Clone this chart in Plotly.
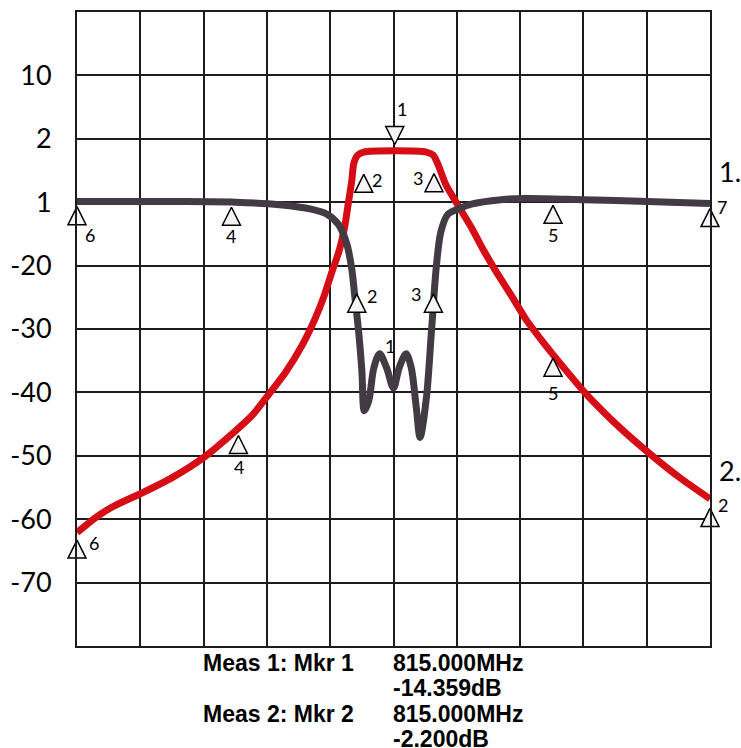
import plotly.graph_objects as go

# ---- data ----
# frequency axis in MHz (10 divisions, centre 815 MHz)
red_freq = [765, 768.0, 770.7, 775.4, 780.1, 785.1, 790.0, 792.7, 795.3, 797.9, 800.6, 802.6,
            804.0, 805.3, 806.4, 807.3, 807.9, 808.4, 808.7, 809.3, 810.3, 815.2, 820.2, 821.3,
            822.1, 823.3, 825.2, 827.3, 829.3, 831.0, 833.6, 836.0, 838.5, 841.4, 845.3, 850.8,
            856.0, 860.3, 865]
red_db = [-62.1, -59.7, -58.0, -55.8, -53.4, -50.2, -46.1, -43.6, -40.3, -36.9, -32.5, -28.4,
          -24.9, -20.9, -17.7, -13.8, -9.9, -6.7, -4.0, -2.6, -2.1, -1.9, -2.1, -2.6,
          -4.2, -7.3, -10.5, -14.0, -17.7, -20.6, -24.7, -28.6, -31.9, -35.5, -40.1, -45.6,
          -50.1, -53.5, -56.8]

gray_freq = [765, 780, 790, 797, 802, 804.5, 806.3, 807.6, 808.4, 808.9, 809.5, 810.0, 810.4,
             811.1, 811.9, 812.8, 813.9, 815.0, 815.9, 817.0, 817.8, 818.6, 819.2, 820.2, 821.0,
             821.8, 822.5, 823.6, 825.4, 827.3, 832, 835.6, 845, 855.1, 865]
gray_db = [-9.9, -9.9, -10.0, -10.4, -11.1, -11.9, -13.5, -16.5, -20.5, -25.0, -30.5, -36.5, -42.9,
           -41.3, -36.1, -33.9, -36.1, -39.3, -36.1, -33.9, -36.1, -42.4, -47.1, -40.8, -30.3,
           -19.8, -14.6, -11.9, -11.0, -10.3, -9.6, -9.4, -9.6, -9.9, -10.2]

# markers (apex positions)
red_mkr_freq = [815.2, 810.3, 821.4, 790.5, 840.2, 765, 865]
red_mkr_db = [-0.9, -5.6, -5.5, -46.8, -34.6, -63.3, -58.3]
red_mkr_lbl = ["1", "2", "3", "4", "5", "6", "2"]

gray_mkr_freq = [815.0, 809.2, 821.3, 789.4, 840.2, 765, 865]
gray_mkr_db = [-39.3, -24.5, -24.5, -10.8, -10.5, -10.7, -11.0]
gray_mkr_lbl = ["1", "2", "3", "4", "5", "6", "7"]

y_tickvals = [10, 0, -10, -20, -30, -40, -50, -60, -70]
y_ticktext = ["10", "2", "1", "-20", "-30", "-40", "-50", "-60", "-70"]

readout_left = ["Meas 1: Mkr 1", "", "Meas 2: Mkr 2", ""]
readout_right = ["815.000MHz", "-14.359dB", "815.000MHz", "-2.200dB"]

# ---- style ----
RED = "#d50d17"
GRAY = "#433b43"
FONT = "Lato"

# label offsets (pixels, relative to marker apex)
red_off = [(7, 36), (13, -6), (-16, -4), (1, -31), (0, -35), (17, -3), (13, 3)]
gray_off = [(-4, 42), (15, -2), (-17, 0), (0, -29), (0, -30), (13, -28), (12, 2)]
red_sym = ["arrow-down", "arrow-up", "arrow-up", "arrow-up", "arrow-up", "arrow-up", "arrow-up"]
gray_show = [False, True, True, True, True, True, True]

fig = go.Figure()
fig.add_trace(go.Scatter(x=red_freq, y=red_db, mode="lines",
                         line=dict(color=RED, width=7, shape="spline", smoothing=0.6),
                         hoverinfo="skip", cliponaxis=False))
fig.add_trace(go.Scatter(x=gray_freq, y=gray_db, mode="lines",
                         line=dict(color=GRAY, width=7, shape="spline", smoothing=0.9),
                         hoverinfo="skip", cliponaxis=False))

fig.add_trace(go.Scatter(x=red_mkr_freq, y=red_mkr_db, mode="markers",
                         marker=dict(symbol=red_sym, size=18, color="#f4f4f4",
                                     line=dict(color="black", width=1.5)),
                         cliponaxis=False, hoverinfo="skip"))
gx = [f for f, s in zip(gray_mkr_freq, gray_show) if s]
gy = [d for d, s in zip(gray_mkr_db, gray_show) if s]
fig.add_trace(go.Scatter(x=gx, y=gy, mode="markers",
                         marker=dict(symbol="arrow-up", size=18, color="#f4f4f4",
                                     line=dict(color="black", width=1.5)),
                         cliponaxis=False, hoverinfo="skip"))

ann = []
for f, d, t, (dx, dy) in zip(red_mkr_freq, red_mkr_db, red_mkr_lbl, red_off):
    ann.append(dict(x=f, y=d, text=t, showarrow=False, xshift=dx, yshift=dy,
                    font=dict(family=FONT, size=18, color="black"),
                    xanchor="center", yanchor="middle"))
for f, d, t, (dx, dy) in zip(gray_mkr_freq, gray_mkr_db, gray_mkr_lbl, gray_off):
    ann.append(dict(x=f, y=d, text=t, showarrow=False, xshift=dx, yshift=dy,
                    font=dict(family=FONT, size=18, color="black"),
                    xanchor="center", yanchor="middle"))

ys = [-0.0267, -0.066, -0.107, -0.146]
for i, (l, r) in enumerate(zip(readout_left, readout_right)):
    if l:
        ann.append(dict(xref="paper", yref="paper", x=0.1965, y=ys[i], text="<b>" + l + "</b>",
                        showarrow=False, xanchor="left", yanchor="middle",
                        font=dict(family="Liberation Sans", size=23, color="black")))
    ann.append(dict(xref="paper", yref="paper", x=0.4953, y=ys[i], text="<b>" + r + "</b>",
                    showarrow=False, xanchor="left", yanchor="middle",
                    font=dict(family="Liberation Sans", size=23, color="black")))

ann.append(dict(xref="paper", yref="paper", x=1.011, y=0.748, text="1.", showarrow=False,
                xanchor="left", yanchor="middle", font=dict(family=FONT, size=27, color="black")))
ann.append(dict(xref="paper", yref="paper", x=1.011, y=0.277, text="2.", showarrow=False,
                xanchor="left", yanchor="middle", font=dict(family=FONT, size=27, color="black")))

fig.update_layout(
    width=741, height=748,
    margin=dict(l=74, r=31, t=10, b=102),
    paper_bgcolor="white", plot_bgcolor="white",
    showlegend=False,
    annotations=ann,
    xaxis=dict(range=[765, 865], tick0=765, dtick=10, showgrid=True, gridcolor="#1c1c1c",
               gridwidth=2, showticklabels=False, ticks="", zeroline=False,
               showline=True, linecolor="#1c1c1c", linewidth=2, mirror=True, fixedrange=True),
    yaxis=dict(range=[-80, 20], tickmode="array", tickvals=y_tickvals, ticktext=y_ticktext,
               showgrid=True, gridcolor="#1c1c1c", gridwidth=2, ticks="", zeroline=False,
               showline=True, linecolor="#1c1c1c", linewidth=2, mirror=True,
               tickfont=dict(family=FONT, size=27, color="black"), ticklabelstandoff=18,
               fixedrange=True),
)

fig.write_html("out.html", config={"displayModeBar": False},
               post_script="document.body.style.margin='0';document.body.style.overflow='hidden';")
